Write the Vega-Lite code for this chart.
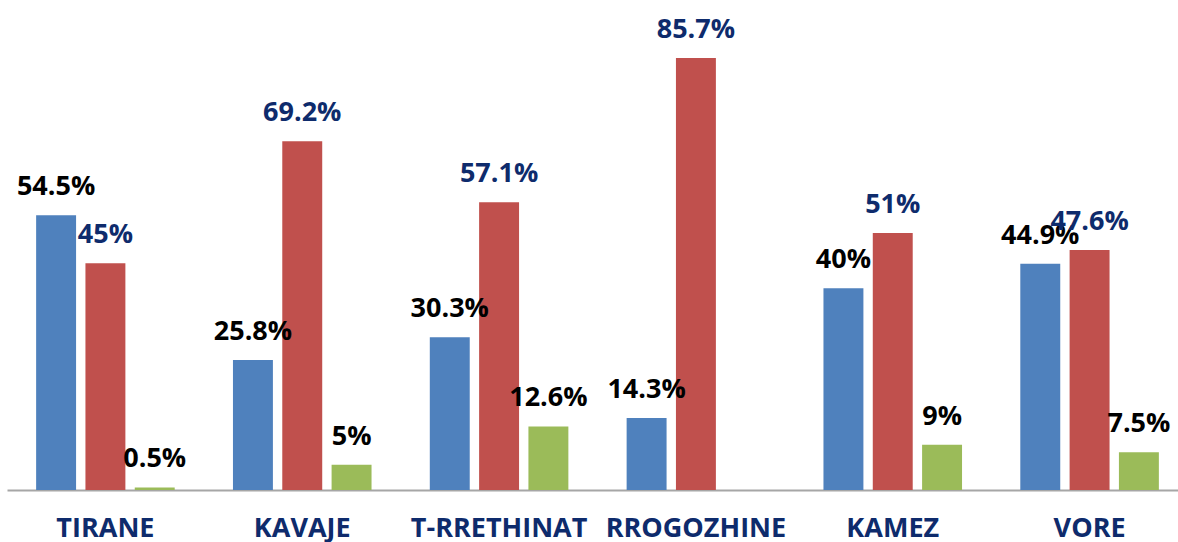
{
  "$schema": "https://vega.github.io/schema/vega-lite/v6.json",
  "width": 1181,
  "height": 490,
  "autosize": {"type": "none"},
  "padding": {"left": 7, "top": 0, "right": 0, "bottom": 52},
  "background": "#ffffff",
  "config": {"view": {"stroke": null}},
  "data": {
    "values": [
      {"group": "TIRANE", "series": "A", "value": 54.5},
      {"group": "TIRANE", "series": "B", "value": 45},
      {"group": "TIRANE", "series": "C", "value": 0.5},
      {"group": "KAVAJE", "series": "A", "value": 25.8},
      {"group": "KAVAJE", "series": "B", "value": 69.2},
      {"group": "KAVAJE", "series": "C", "value": 5},
      {"group": "T-RRETHINAT", "series": "A", "value": 30.3},
      {"group": "T-RRETHINAT", "series": "B", "value": 57.1},
      {"group": "T-RRETHINAT", "series": "C", "value": 12.6},
      {"group": "RROGOZHINE", "series": "A", "value": 14.3},
      {"group": "RROGOZHINE", "series": "B", "value": 85.7},
      {"group": "KAMEZ", "series": "A", "value": 40},
      {"group": "KAMEZ", "series": "B", "value": 51},
      {"group": "KAMEZ", "series": "C", "value": 9},
      {"group": "VORE", "series": "A", "value": 44.9},
      {"group": "VORE", "series": "B", "value": 47.6},
      {"group": "VORE", "series": "C", "value": 7.5}
    ]
  },
  "transform": [
    {"calculate": "format(datum.value, '.1~f') + '%'", "as": "label"}
  ],
  "encoding": {
    "x": {
      "field": "group",
      "type": "nominal",
      "sort": ["TIRANE", "KAVAJE", "T-RRETHINAT", "RROGOZHINE", "KAMEZ", "VORE"],
      "scale": {"paddingInner": 0.296, "paddingOuter": 0.148},
      "axis": {
        "title": null,
        "labelAngle": 0,
        "ticks": false,
        "domainColor": "#A6A6A6",
        "domainWidth": 2,
        "labelFont": "Open Sans",
        "labelFontWeight": "bold",
        "labelFontSize": 27,
        "labelColor": "#0E2B6C",
        "labelBaseline": "alphabetic",
        "labelPadding": 46,
        "labelLimit": 0,
        "labelOverlap": false,
        "labelBound": false,
        "grid": false
      }
    },
    "xOffset": {
      "field": "series",
      "type": "nominal",
      "sort": ["A", "B", "C"],
      "scale": {"paddingInner": 0.19, "paddingOuter": 0}
    },
    "y": {
      "field": "value",
      "type": "quantitative",
      "scale": {"domain": [0, 97.2], "nice": false, "zero": true},
      "axis": null
    }
  },
  "layer": [
    {
      "mark": {"type": "bar"},
      "encoding": {
        "color": {
          "field": "series",
          "type": "nominal",
          "scale": {"domain": ["A", "B", "C"], "range": ["#4F81BD", "#C0504D", "#9BBB59"]},
          "legend": null
        }
      }
    },
    {
      "mark": {
        "type": "text",
        "baseline": "alphabetic",
        "align": "center",
        "dy": -20,
        "font": "Open Sans",
        "fontWeight": "bold",
        "fontSize": 27
      },
      "encoding": {
        "text": {"field": "label"},
        "color": {
          "condition": {"test": "datum.series === 'B'", "value": "#0E2B6C"},
          "value": "#000000"
        }
      }
    }
  ]
}
